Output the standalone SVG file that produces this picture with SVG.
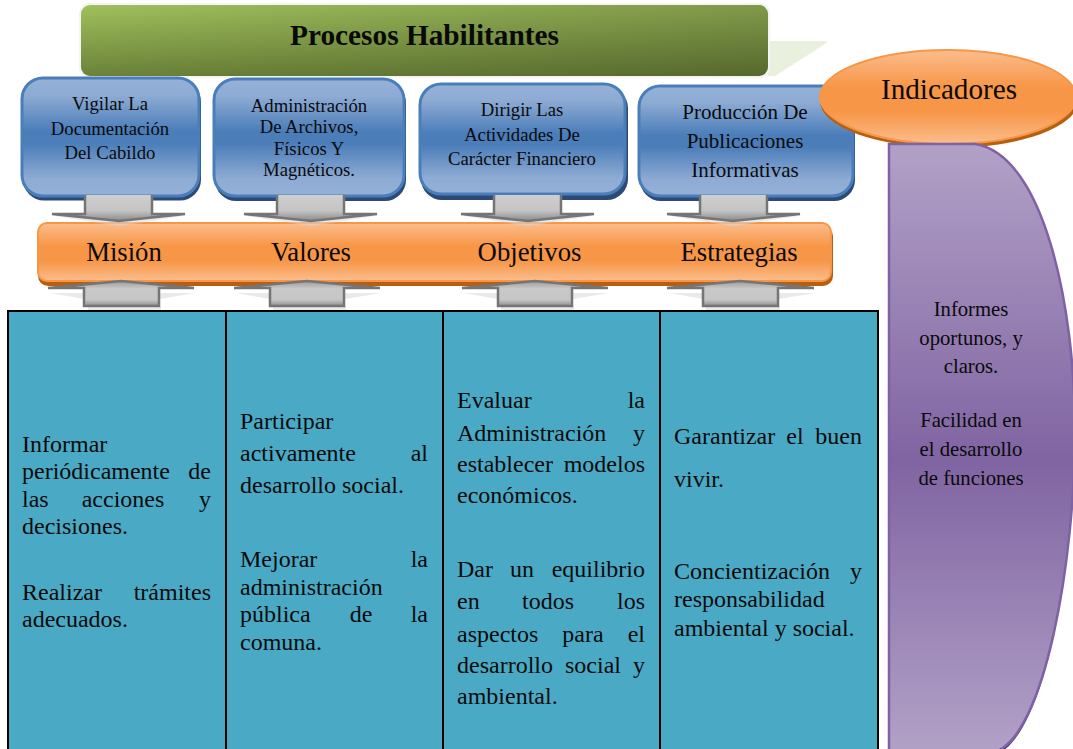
<svg xmlns="http://www.w3.org/2000/svg" width="1073" height="749" viewBox="0 0 1073 749">
<style>
text{font-family:"Liberation Serif","Times New Roman",serif;fill:#0a0a0a}
.m{text-anchor:middle}
.e{text-anchor:end}
.b{fill:url(#blue);stroke:#4a7ebb;stroke-width:3}
.bs{fill:#2c4a75}
.a{fill:url(#gray);stroke:#757575;stroke-width:2.5;stroke-linejoin:miter}
.a2{fill:url(#gray2);stroke:#757575;stroke-width:2.5}
.r{fill:#d8d8d8;opacity:.55}
.t{font-size:24px}
.bt1{font-size:18.7px}
.bt2{font-size:21px}
.or{font-size:26.7px}
.pt{font-size:20.7px}
.cell{fill:#4aaac6;stroke:#000;stroke-width:2}
</style>
<defs>
<linearGradient id="green" x1="0" y1="0" x2="0" y2="1"><stop offset="0" stop-color="#a0c05c"/><stop offset="1" stop-color="#6b8238"/></linearGradient>
<linearGradient id="greenx" x1="0" y1="0" x2="1" y2="0"><stop offset="0" stop-color="#000" stop-opacity="0"/><stop offset="1" stop-color="#000" stop-opacity=".2"/></linearGradient>
<linearGradient id="blue" x1="0" y1="0" x2="0" y2="1"><stop offset="0" stop-color="#95b1d8"/><stop offset=".15" stop-color="#8dabd3"/><stop offset=".45" stop-color="#4b7db9"/><stop offset=".55" stop-color="#4b7db9"/><stop offset=".85" stop-color="#8dabd3"/><stop offset="1" stop-color="#95b1d8"/></linearGradient>
<linearGradient id="orange" x1="0" y1="0" x2="0" y2="1"><stop offset="0" stop-color="#fbbd8d"/><stop offset=".4" stop-color="#f79646"/><stop offset=".65" stop-color="#f79646"/><stop offset="1" stop-color="#fbbd8d"/></linearGradient>
<linearGradient id="purple" x1="0" y1="0" x2="0" y2="1"><stop offset="0" stop-color="#b2a1c7"/><stop offset=".52" stop-color="#8064a2"/><stop offset="1" stop-color="#b2a1c7"/></linearGradient>
<linearGradient id="gray" x1="0" y1="0" x2="0" y2="1"><stop offset="0" stop-color="#cfcfcf"/><stop offset=".6" stop-color="#c4c4c4"/><stop offset="1" stop-color="#8a8a8a"/></linearGradient>
<linearGradient id="gray2" x1="0" y1="0" x2="0" y2="1"><stop offset="0" stop-color="#9a9a9a"/><stop offset=".3" stop-color="#c8c8c8"/><stop offset=".75" stop-color="#c6c6c6"/><stop offset="1" stop-color="#8f8f8f"/></linearGradient>
</defs>

<g id="verde">
<path d="M768,41 H825 Q829,41 825,44 L775,76 H768Z" fill="#e9f0de"/>
<rect x="79" y="3" width="691" height="75" rx="10" fill="#f4f4f4"/>
<rect x="81" y="5" width="687" height="71" rx="9" fill="url(#green)"/>
<rect x="81" y="5" width="687" height="71" rx="9" fill="url(#greenx)"/>
<text x="424.500" y="45" font-size="29.300" font-weight="bold" class="m">Procesos Habilitantes</text>
</g>

<g id="proc1">
<rect x="23" y="81" width="178" height="119.500" rx="21" class="bs"/>
<rect x="22" y="78" width="177" height="118" rx="21" class="b"/>
<text class="bt1 m" x="110" y="110">Vigilar La</text>
<text class="bt1 m" x="110" y="135">Documentación</text>
<text class="bt1 m" x="110" y="159">Del Cabildo</text>
</g>
<g id="proc2">
<rect x="215" y="82" width="191" height="119" rx="21" class="bs"/>
<rect x="214" y="79" width="190" height="117" rx="21" class="b"/>
<text class="bt1 m" x="309" y="112">Administración</text>
<text class="bt1 m" x="309" y="133">De Archivos,</text>
<text class="bt1 m" x="309" y="155">Físicos Y</text>
<text class="bt1 m" x="309" y="176">Magnéticos.</text>
</g>
<g id="proc3">
<rect x="421" y="87" width="207" height="113" rx="21" class="bs"/>
<rect x="420" y="84" width="205" height="110" rx="21" class="b"/>
<text class="bt1 m" x="522" y="116">Dirigir Las</text>
<text class="bt1 m" x="522" y="141">Actividades De</text>
<text class="bt1 m" x="522" y="165">Carácter Financiero</text>
</g>
<g id="proc4">
<rect x="640" y="89" width="215" height="112" rx="21" class="bs"/>
<rect x="639" y="86" width="214" height="110" rx="21" class="b"/>
<text class="bt2 m" x="745" y="119">Producción De</text>
<text class="bt2 m" x="745" y="148">Publicaciones</text>
<text class="bt2 m" x="745" y="177">Informativas</text>
</g>

<g id="indicadores">
<ellipse cx="949" cy="101" rx="129" ry="47" fill="#b5600f"/>
<ellipse cx="948" cy="97" rx="128" ry="47" fill="url(#orange)" stroke="#f79646" stroke-width="2"/>
<text class="m" x="949" y="99" font-size="29.200">Indicadores</text>
</g>

<g id="purple-node">
<path d="M889,147 H975 C1045,158 1075,313 1075,433 C1075,563 1045,738 995,755 H889Z" fill="#4e3a6b"/>
<path d="M889,144 H975 C1045,155 1075,310 1075,430 C1075,560 1045,735 995,752 H889Z" fill="url(#purple)" stroke="#7f62a6" stroke-width="2.5"/>
<text class="pt m" x="971" y="316">Informes</text>
<text class="pt m" x="971" y="345">oportunos, y</text>
<text class="pt m" x="971" y="373">claros.</text>
<text class="pt m" x="971" y="427">Facilidad en</text>
<text class="pt m" x="971" y="456">el desarrollo</text>
<text class="pt m" x="971" y="485">de funciones</text>
</g>

<g id="bar">
<rect x="38" y="226" width="795" height="60" rx="10" fill="#b85e10"/>
<rect x="38" y="223" width="793" height="58" rx="9" fill="url(#orange)" stroke="#f79646" stroke-width="2"/>
<text class="or m" x="124" y="261">Misión</text>
<text class="or m" x="311" y="261">Valores</text>
<text class="or m" x="529.500" y="261">Objetivos</text>
<text class="or m" x="739" y="261">Estrategias</text>
</g>

<g id="connectors">
<path class="r" d="M55,216 H183 L119,226Z"/>
<path class="r" d="M247,216 H375 L311,226Z"/>
<path class="r" d="M464,216 H592 L528,226Z"/>
<path class="r" d="M670,216 H798 L733,226Z"/>
<path class="a" d="M85,195 V214 H52 L119,221 L185,214 H152 V195"/>
<path class="a" d="M277,195 V214 H244 L311,221 L377,214 H344 V195"/>
<path class="a" d="M494,195 V214 H461 L528,221 L594,214 H561 V195"/>
<path class="a" d="M700,195 V214 H667 L733,221 L800,214 H767 V195"/>
<path class="r" d="M50,293 H84 V299Z M160,293 H195 L160,299Z M88,306 H161 V311 H88Z"/>
<path class="r" d="M236,293 H270 V299Z M345,293 H381 L345,299Z M273,306 H346 V311 H273Z"/>
<path class="r" d="M464,293 H498 V299Z M573,293 H609 L573,299Z M501,306 H574 V311 H501Z"/>
<path class="r" d="M669,293 H703 V299Z M779,293 H815 L779,299Z M706,306 H780 V311 H706Z"/>
<path class="a2" d="M84,288 H48 L121,281 L194,288 H159 V306 H84Z"/>
<path class="a2" d="M270,288 H234 L307,281 L380,288 H344 V306 H270Z"/>
<path class="a2" d="M498,288 H462 L535,281 L608,288 H572 V306 H498Z"/>
<path class="a2" d="M703,288 H667 L740,281 L814,288 H778 V306 H703Z"/>
</g>

<g id="col1">
<rect class="cell" x="8" y="311" width="218" height="440"/>
<text class="t" x="22" y="452">Informar</text>
<text class="t" x="22" y="479">periódicamente</text><text class="t e" x="211" y="479">de</text>
<text class="t" x="22" y="507">las</text><text class="t m" x="123" y="507">acciones</text><text class="t e" x="211" y="507">y</text>
<text class="t" x="22" y="534">decisiones.</text>
<text class="t" x="22" y="600">Realizar</text><text class="t e" x="211" y="600">trámites</text>
<text class="t" x="22" y="627">adecuados.</text>
</g>
<g id="col2">
<rect class="cell" x="226" y="311" width="217" height="440"/>
<text class="t" x="240" y="429">Participar</text>
<text class="t" x="240" y="461">activamente</text><text class="t e" x="428" y="461">al</text>
<text class="t" x="240" y="493">desarrollo social.</text>
<text class="t" x="240" y="567">Mejorar</text><text class="t e" x="428" y="567">la</text>
<text class="t" x="240" y="595">administración</text>
<text class="t" x="240" y="622">pública</text><text class="t m" x="361" y="622">de</text><text class="t e" x="428" y="622">la</text>
<text class="t" x="240" y="650">comuna.</text>
</g>
<g id="col3">
<rect class="cell" x="443" y="311" width="217" height="440"/>
<text class="t" x="457" y="408">Evaluar</text><text class="t e" x="645" y="408">la</text>
<text class="t" x="457" y="441">Administración</text><text class="t e" x="645" y="441">y</text>
<text class="t" x="457" y="472">establecer</text><text class="t e" x="645" y="472">modelos</text>
<text class="t" x="457" y="503">económicos.</text>
<text class="t" x="457" y="577">Dar</text><text class="t m" x="522" y="577">un</text><text class="t e" x="645" y="577">equilibrio</text>
<text class="t" x="457" y="609">en</text><text class="t m" x="548" y="609">todos</text><text class="t e" x="645" y="609">los</text>
<text class="t" x="457" y="642">aspectos</text><text class="t m" x="583" y="642">para</text><text class="t e" x="645" y="642">el</text>
<text class="t" x="457" y="673">desarrollo</text><text class="t m" x="593" y="673">social</text><text class="t e" x="645" y="673">y</text>
<text class="t" x="457" y="704">ambiental.</text>
</g>
<g id="col4">
<rect class="cell" x="660" y="311" width="218" height="440"/>
<text class="t" x="674" y="444">Garantizar</text><text class="t m" x="795" y="444">el</text><text class="t e" x="862" y="444">buen</text>
<text class="t" x="674" y="487">vivir.</text>
<text class="t" x="674" y="579">Concientización</text><text class="t e" x="862" y="579">y</text>
<text class="t" x="674" y="607">responsabilidad</text>
<text class="t" x="674" y="636">ambiental y social.</text>
</g>
</svg>
